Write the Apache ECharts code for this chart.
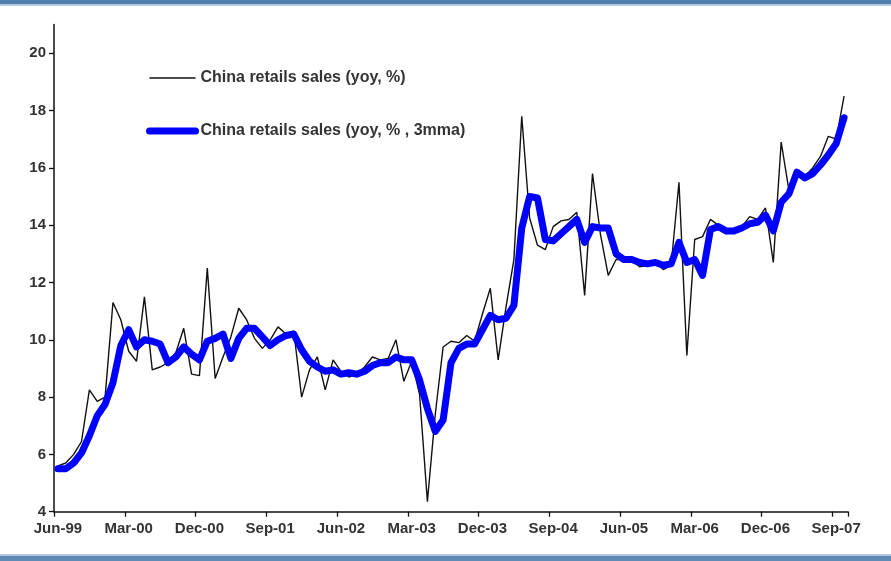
<!DOCTYPE html>
<html>
<head>
<meta charset="utf-8">
<script src="https://cdn.jsdelivr.net/npm/echarts@6/dist/echarts.min.js"></script>
<style>
  html, body { margin: 0; padding: 0; background: #ffffff; }
  #chart { width: 891px; height: 561px; }
</style>
</head>
<body>
<div id="chart"></div>
<script>
// Monthly axis: Jun-99 through Oct-07
const monthNames = ['Jan','Feb','Mar','Apr','May','Jun','Jul','Aug','Sep','Oct','Nov','Dec'];
const firstYear = 1999, firstMonth = 5, monthCount = 101;
const categories = [];
for (let k = 0; k < monthCount; k++) {
  const m = (firstMonth + k) % 12;
  const y = firstYear + Math.floor((firstMonth + k) / 12);
  categories.push(monthNames[m] + '-' + String(y % 100).padStart(2, '0'));
}

// China retail sales, yoy %
const retailYoy = [
  5.6, 5.7, 6.0, 6.45, 8.25, 7.85, 8.0, 11.3, 10.7, 9.6,
  9.25, 11.5, 8.95, 9.05, 9.2, 9.55, 10.4, 8.8, 8.75, 12.5,
  8.65, 9.4, 10.1, 11.1, 10.7, 10.05, 9.7, 10.0, 10.45, 10.2,
  10.3, 8.0, 8.95, 9.4, 8.25, 9.3, 8.9, 8.7, 8.8, 9.05,
  9.4, 9.3, 9.35, 10.0, 8.55, 9.25, 8.1, 4.35, 7.4, 9.75,
  9.95, 9.9, 10.15, 9.95, 10.9, 11.8, 9.3, 11.15, 12.8, 17.8,
  14.25, 13.3, 13.15, 13.95, 14.15, 14.2, 14.45, 11.55, 15.8, 13.7,
  12.25, 12.8, 12.8, 12.75, 12.55, 12.6, 12.7, 12.45, 12.6, 15.5,
  9.45, 13.5, 13.6, 14.2, 14.0, 13.7, 13.85, 13.95, 14.3, 14.2,
  14.6, 12.7, 16.9, 15.2, 15.9, 15.7, 16.0, 16.4, 17.1, 17.0,
  18.5
];

// China retail sales, yoy %, 3-month moving average
const retail3mma = [
  5.5, 5.5, 5.7, 6.05, 6.65, 7.35, 7.75, 8.5, 9.8, 10.35,
  9.75, 10.0, 9.95, 9.85, 9.2, 9.4, 9.75, 9.5, 9.3, 9.95,
  10.05, 10.2, 9.35, 10.05, 10.4, 10.4, 10.1, 9.8, 10.0, 10.15,
  10.2, 9.65, 9.25, 9.05, 8.9, 8.95, 8.8, 8.85, 8.8, 8.9,
  9.1, 9.2, 9.2, 9.4, 9.3, 9.3, 8.6, 7.6, 6.8, 7.2,
  9.2, 9.7, 9.85, 9.85, 10.35, 10.85, 10.7, 10.75, 11.2, 13.9,
  15.0, 14.95, 13.5, 13.45, 13.7, 13.95, 14.2, 13.4, 13.95, 13.9,
  13.9, 13.0, 12.8, 12.8, 12.7, 12.65, 12.7, 12.6, 12.65, 13.4,
  12.7, 12.8, 12.25, 13.85, 13.95, 13.8, 13.8, 13.9, 14.05, 14.1,
  14.35, 13.8, 14.8, 15.1, 15.85, 15.65, 15.8, 16.1, 16.45, 16.85,
  17.75
];

const yTicks = [4, 6, 8, 10, 12, 14, 16, 18, 20];
const seriesNames = ['China retails sales (yoy, %)', 'China retails sales (yoy, % , 3mma)'];

const chart = echarts.init(document.getElementById('chart'), null, { renderer: 'canvas' });

const labelFont = {
  fontFamily: 'Liberation Sans, Arial, sans-serif',
  fontSize: 15,
  fontWeight: 'bold',
  color: '#333333'
};

chart.setOption({
  animation: false,
  backgroundColor: '#ffffff',
  grid: { left: 54, right: 43, top: 24.6, bottom: 49.3, containLabel: false },
  legend: {
    orient: 'vertical',
    left: 146,
    top: 70,
    padding: 0,
    itemWidth: 46,
    itemHeight: 14,
    itemGap: 37,
    // line-only keys: the point marker is hidden
    itemStyle: { color: 'rgba(0,0,0,0)', borderWidth: 0, opacity: 0 },
    data: [
      { name: seriesNames[0], lineStyle: { color: '#111111', width: 1.4 } },
      { name: seriesNames[1], lineStyle: { color: '#0000ff', width: 7, cap: 'round' } }
    ],
    textStyle: {
      fontFamily: 'Liberation Sans, Arial, sans-serif',
      fontSize: 16,
      fontWeight: 'bold',
      color: '#333333'
    }
  },
  xAxis: {
    type: 'category',
    data: categories,
    boundaryGap: true,
    axisLine: { lineStyle: { color: '#111111', width: 1.5 } },
    axisTick: { show: true, interval: 8, length: 5, inside: false, lineStyle: { color: '#111111', width: 1.3 } },
    axisLabel: Object.assign({ interval: 8, margin: 10 }, labelFont),
    splitLine: { show: false }
  },
  yAxis: {
    type: 'value',
    min: 4,
    max: 21,
    interval: 2,
    axisLine: { show: true, lineStyle: { color: '#111111', width: 1.5 } },
    axisTick: { show: true, length: 5, lineStyle: { color: '#111111', width: 1.3 }, customValues: yTicks },
    axisLabel: Object.assign({ margin: 8, customValues: yTicks }, labelFont),
    splitLine: { show: false }
  },
  series: [
    {
      name: seriesNames[0],
      type: 'line',
      data: retailYoy,
      symbol: 'none',
      smooth: false,
      lineStyle: { color: '#111111', width: 1.4 },
      itemStyle: { color: '#111111' },
      z: 2
    },
    {
      name: seriesNames[1],
      type: 'line',
      data: retail3mma,
      symbol: 'none',
      smooth: false,
      lineStyle: { color: '#0000ff', width: 7, cap: 'round', join: 'round' },
      itemStyle: { color: '#0000ff' },
      z: 3
    }
  ],
  graphic: [
    { type: 'rect', shape: { x: 0, y: 0, width: 891, height: 4 }, style: { fill: '#4f7caa' }, silent: true },
    { type: 'rect', shape: { x: 0, y: 4, width: 891, height: 2 }, style: { fill: '#b7cbe0' }, silent: true },
    { type: 'rect', shape: { x: 0, y: 554, width: 891, height: 2 }, style: { fill: '#b7cbe0' }, silent: true },
    { type: 'rect', shape: { x: 0, y: 556, width: 891, height: 5 }, style: { fill: '#5f8ab5' }, silent: true }
  ]
});
</script>
</body>
</html>
